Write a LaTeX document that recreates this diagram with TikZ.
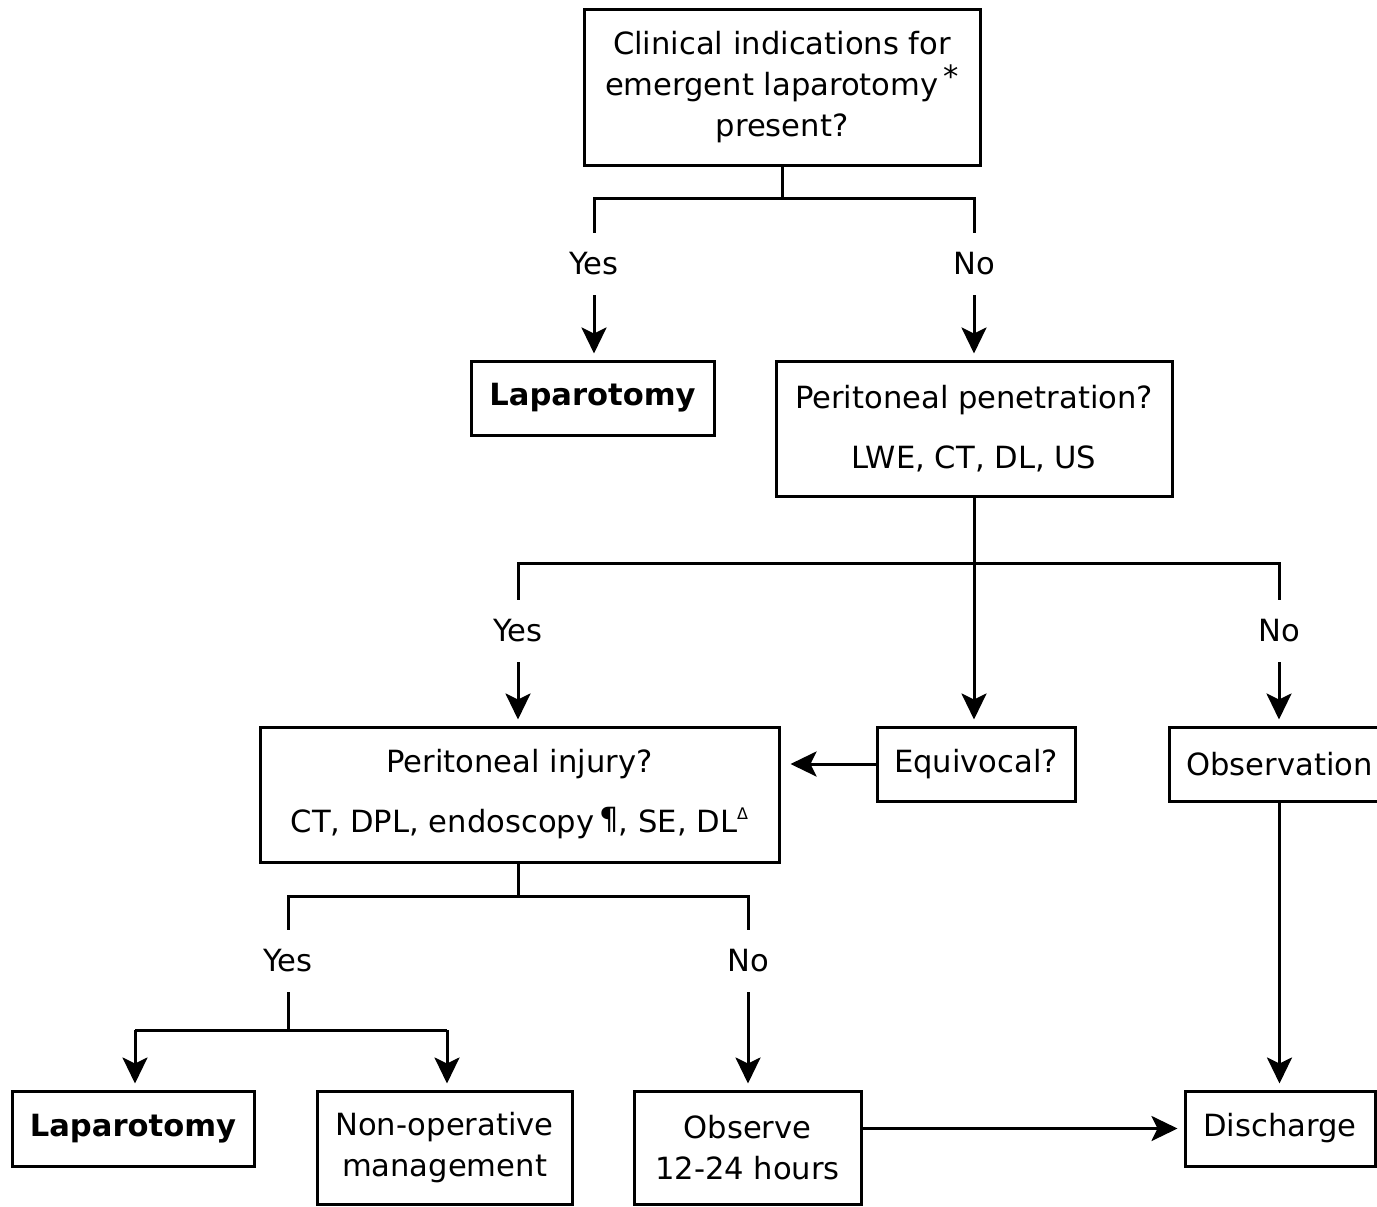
\documentclass[tikz,border=0pt]{standalone}
\usepackage{fontspec}
\setmainfont{DejaVu Sans}
\usetikzlibrary{arrows.meta}
\begin{document}
\begin{tikzpicture}[x=0.5pt,y=-0.5pt,
  font=\fontsize{15.3pt}{20.5pt}\selectfont,
  box/.style={draw,line width=1.5pt,inner sep=0pt,align=center},
  lbl/.style={inner sep=0pt,minimum height=31pt,minimum width=20pt},
  ln/.style={line width=1.5pt},
  arr/.style={line width=1.5pt,-{Stealth[length=13pt,width=12.5pt,inset=3pt]}}
]
\useasboundingbox (0,0) rectangle (1377,1206);
% boxes
\node[box,minimum width=198pt,minimum height=78pt] (top) at (782,87) {Clinical indications for\\emergent laparotomy\,\raisebox{0.25em}{*}\\present?};
\node[box,minimum width=121.5pt,minimum height=37pt] (lap1) at (592.5,398) {\bfseries Laparotomy};
\node[box,minimum width=198pt,minimum height=67.5pt] (pen) at (974,428.5) {Peritoneal penetration?\\[9.5pt]LWE, CT, DL, US};
\node[box,minimum width=259.5pt,minimum height=67.5pt] (inj) at (519.5,794.5) {Peritoneal injury?\\[9.5pt]CT, DPL, endoscopy\,\raisebox{0.1em}{¶}, SE, DL\raisebox{0.45em}{\footnotesize Δ}};
\node[box,minimum width=99pt,minimum height=37pt] (equ) at (976,764) {Equivocal?};
\node[box,minimum width=110.5pt,minimum height=37pt] (obs) at (1279.5,764) {Observation};
\node[box,minimum width=121pt,minimum height=37.5pt] (lap2) at (133,1128.5) {\bfseries Laparotomy};
\node[box,minimum width=127.5pt,minimum height=56.5pt] (non) at (444.5,1147.5) {Non-operative\\management};
\node[box,minimum width=113.5pt,minimum height=56.5pt] (obv) at (747.5,1147.5) {Observe\\12-24 hours};
\node[box,minimum width=95pt,minimum height=37.5pt] (dis) at (1280,1128.5) {Discharge};
% labels
\node[lbl] (y1) at (594,264) {Yes};
\node[lbl] (n1) at (974,264) {No};
\node[lbl] (y2) at (518,631) {Yes};
\node[lbl] (n2) at (1279,631) {No};
\node[lbl] (y3) at (288,961) {Yes};
\node[lbl] (n3) at (748,961) {No};
% junction coordinates
\coordinate (j1) at (782,198);
\coordinate (j1l) at (594,198);
\coordinate (j1r) at (974,198);
\coordinate (j2) at (974,563);
\coordinate (j2l) at (518,563);
\coordinate (j2r) at (1279,563);
\coordinate (j3) at (518,896);
\coordinate (j3l) at (288,896);
\coordinate (j3r) at (748,896);
\coordinate (j4) at (288,1030);
\coordinate (j4l) at (135,1030);
\coordinate (j4r) at (447,1030);
% connectors level 1
\draw[ln] (top.south) -- (j1);
\draw[ln] (y1.north) -- (j1l) -- (j1r) -- (n1.north);
\draw[arr,shorten >=3pt] (y1.south) -- (lap1.north -| y1.south);
\draw[arr,shorten >=3pt] (n1.south) -- (pen.north -| n1.south);
% level 2
\draw[ln] (pen.south) -- (j2);
\draw[ln] (y2.north) -- (j2l) -- (j2r) -- (n2.north);
\draw[arr,shorten >=3pt] (j2) -- (equ.north -| j2);
\draw[arr,shorten >=3pt] (y2.south) -- (inj.north -| y2.south);
\draw[arr,shorten >=3pt] (n2.south) -- (obs.north -| n2.south);
\draw[arr,shorten >=5pt] (equ.west) -- (inj.east |- equ.west);
\draw[arr,shorten >=3pt] (obs.south) -- (dis.north -| obs.south);
% level 3
\draw[ln] (inj.south -| j3) -- (j3);
\draw[ln] (y3.north) -- (j3l) -- (j3r) -- (n3.north);
\draw[ln] (y3.south) -- (j4);
\draw[arr,shorten >=3pt] (n3.south) -- (obv.north -| n3.south);
\draw[ln] (j4l) -- (j4r);
\draw[arr,shorten >=3pt] (j4l) -- (lap2.north -| j4l);
\draw[arr,shorten >=3pt] (j4r) -- (non.north -| j4r);
\draw[arr,shorten >=3pt] (obv.east |- dis.west) -- (dis.west);
\end{tikzpicture}
\end{document}
